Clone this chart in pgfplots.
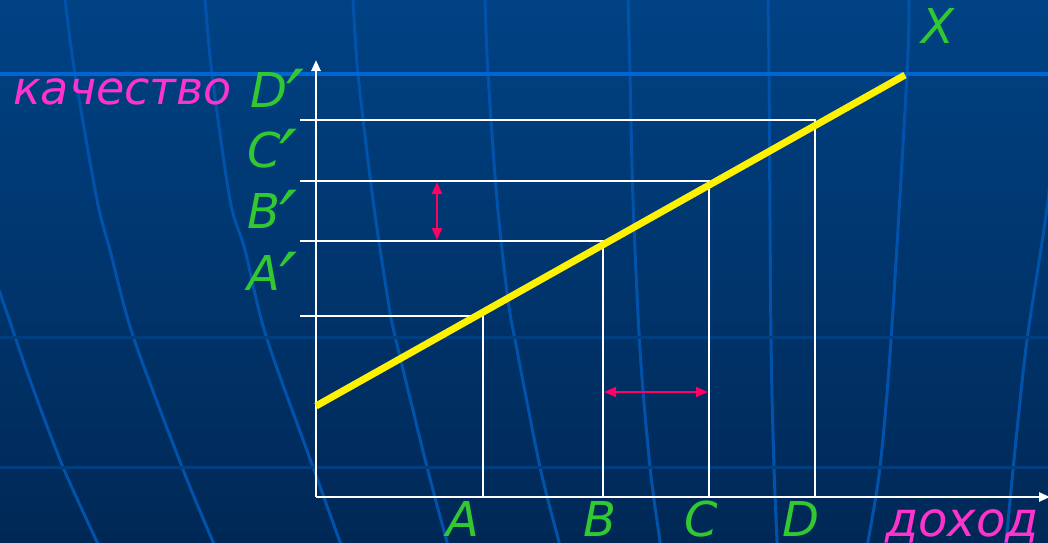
\documentclass[border=0pt]{standalone}
\usepackage{fontspec}
\setmainfont{DejaVu Sans}
\usepackage{pgfplots}
\pgfplotsset{compat=1.18}
\usetikzlibrary{arrows.meta}
\definecolor{bgtop}{RGB}{0,66,132}
\definecolor{bgbot}{RGB}{0,40,86}
\definecolor{merid}{RGB}{0,82,170}
\definecolor{hbright}{RGB}{0,100,210}
\definecolor{hfaint}{RGB}{0,62,128}
\definecolor{lblgreen}{RGB}{50,200,50}
\definecolor{lblmag}{RGB}{255,51,204}
\definecolor{arrred}{RGB}{255,0,100}
\newcommand{\pr}{\kern-1pt\smash{\raisebox{-20pt}{\fontsize{80}{80}\selectfont ′}}}
\begin{document}
\begin{tikzpicture}
\begin{axis}[
  width=1048pt, height=542pt, scale only axis,
  xmin=0, xmax=1048, ymin=0, ymax=542, y dir=reverse,
  axis lines=none, ticks=none, clip=true,
  axis background/.style={shade, top color=bgtop, bottom color=bgbot},
]
% background meridians
\addplot[merid, line width=3pt, smooth] coordinates {(-10,270)(0,293)(30,380)(63,467)(97,542)(100,550)};
\addplot[merid, line width=3pt, smooth] coordinates {(64,-5)(65,0)(75,74)(97,200)(110,250)(133,336)(182,467)(213,542)(216,550)};
\addplot[merid, line width=3pt, smooth] coordinates {(204,-5)(205,0)(212,74)(230,200)(245,250)(266,336)(313,467)(340,542)(343,550)};
\addplot[merid, line width=3pt, smooth] coordinates {(352,-5)(353,0)(358,74)(373,200)(388,300)(395,336)(427,467)(447,542)(449,550)};
\addplot[merid, line width=3pt, smooth] coordinates {(485,-5)(485,0)(488,74)(497,200)(508,300)(517,350)(540,467)(559,542)(561,550)};
\addplot[merid, line width=3pt, smooth] coordinates {(628,-5)(628,0)(630,74)(633,200)(640,350)(650,467)(660,542)(661,550)};
\addplot[merid, line width=3pt, smooth] coordinates {(768,-5)(768,0)(769,74)(771,340)(774,467)(777,542)(777,550)};
\addplot[merid, line width=3pt, smooth] coordinates {(909,-5)(909,0)(907,74)(891,340)(880,467)(868,542)(867,550)};
\addplot[merid, line width=3pt, smooth] coordinates {(1064,-5)(1062,0)(1055,100)(1048,200)(1027,340)(1015,450)(1006,542)(1005,550)};
% background parallels
\addplot[hfaint, line width=3pt] coordinates {(0,337)(1048,337)};
\addplot[hfaint, line width=3pt] coordinates {(0,467)(1048,467)};
\addplot[hbright, line width=4pt] coordinates {(0,74)(1048,74)};
% guide lines
\addplot[white, line width=2pt] coordinates {(300,316)(483,316)(483,497)};
\addplot[white, line width=2pt] coordinates {(300,241)(603,241)(603,497)};
\addplot[white, line width=2pt] coordinates {(300,181)(709,181)(709,497)};
\addplot[white, line width=2pt] coordinates {(300,120)(815,120)(815,497)};
% axes
\addplot[white, line width=2.5pt, -{Triangle[length=11pt,width=9pt]}] coordinates {(316,497)(316,60)};
\addplot[white, line width=2.5pt, -{Triangle[length=11pt,width=9pt]}] coordinates {(316,497)(1050,497)};
% yellow line
\addplot[yellow, line width=7pt] coordinates {(316,406)(905,75)};
% red arrows
\addplot[arrred, line width=2pt, {Triangle[length=12pt,width=10pt]}-{Triangle[length=12pt,width=10pt]}] coordinates {(437,182)(437,240)};
\addplot[arrred, line width=2pt, {Triangle[length=12pt,width=10pt]}-{Triangle[length=12pt,width=10pt]}] coordinates {(604,392)(708,392)};
\end{axis}
\begin{scope}[every node/.style={inner sep=0pt, font=\fontsize{48}{50}\selectfont\itshape}]
\node[lblmag, anchor=base west, font=\fontsize{46}{50}\selectfont\itshape] at (13pt,{542pt-105pt}) {качество};
\node[lblgreen, anchor=base west] at (250pt,{542pt-107pt}) {D\pr};
\node[lblgreen, anchor=base west] at (247pt,{542pt-167pt}) {C\pr};
\node[lblgreen, anchor=base west] at (247pt,{542pt-228pt}) {B\pr};
\node[lblgreen, anchor=base west] at (247pt,{542pt-290pt}) {A\pr};
\node[lblgreen, anchor=base] at (463pt,{542pt-536pt}) {A};
\node[lblgreen, anchor=base] at (600pt,{542pt-536pt}) {B};
\node[lblgreen, anchor=base] at (701pt,{542pt-536pt}) {C};
\node[lblgreen, anchor=base] at (801pt,{542pt-536pt}) {D};
\node[lblmag, anchor=base west] at (885pt,{542pt-536pt}) {доход};
\node[lblgreen, anchor=base] at (938pt,{542pt-44pt}) {X};
\end{scope}
\pgfresetboundingbox
\path[use as bounding box] (0,0) rectangle (1048pt,542pt);
\end{tikzpicture}
\end{document}
